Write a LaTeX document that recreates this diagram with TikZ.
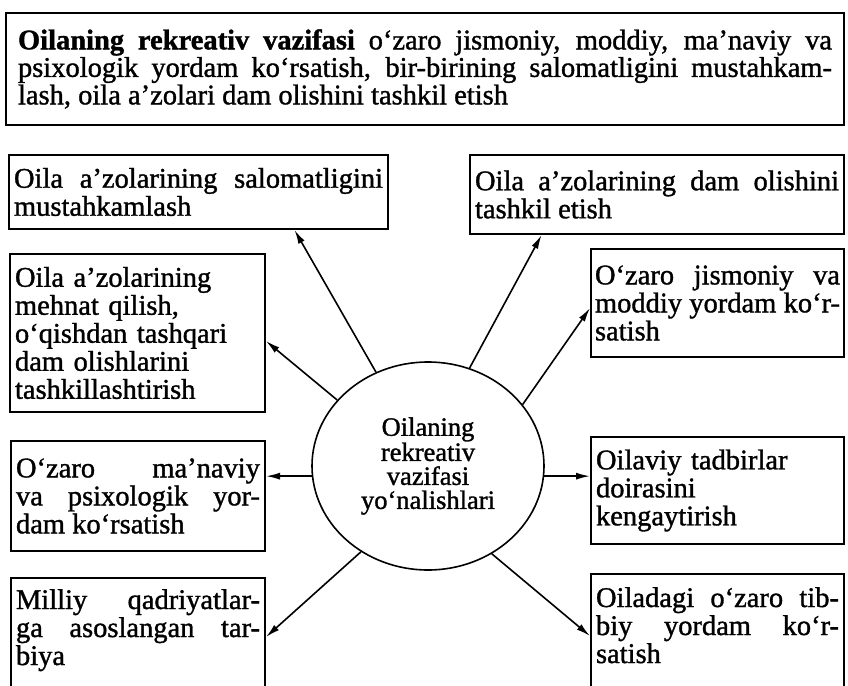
\documentclass[tikz,border=0pt]{standalone}
\usepackage{fontspec}
\setmainfont{Liberation Serif}[FakeBold=1.2]
\usetikzlibrary{arrows.meta,shapes.geometric,calc}
\hyphenpenalty=10000
\exhyphenpenalty=10000
\tolerance=10000
\begin{document}
\begin{tikzpicture}[x=1pt,y=-1pt,
  box/.style={draw,line width=2pt,anchor=north west,inner xsep=5pt,inner ysep=2pt,
    align=justify,font=\fontsize{28.5}{28}\selectfont},
  rag/.style={box,align=left},
  openbox/.style={box,text height=20pt,text depth=110pt},
  arr/.style={line width=1.6pt,-{Latex[length=14pt,width=7pt]}},
]
\useasboundingbox (0,0) rectangle (848,685);
\clip (0,0) rectangle (848,685);

\node[box,inner xsep=12pt,text width=814pt,minimum height=112pt,
  font=\fontsize{28.5}{27.5}\selectfont] (top) at (5,12)
  {\textbf{Oilaning rekreativ vazifasi} o‘zaro jismoniy, moddiy, ma’naviy va\linebreak
   psixologik yordam ko‘rsatish, bir-birining salomatligini mustahkam-\linebreak
   lash, oila a’zolari dam olishini tashkil etish};

\node[box,text width=369pt,minimum height=74pt] (b1) at (8,154)
  {Oila a’zolarining salomatligini\linebreak mustahkamlash};
\node[box,text width=364pt,minimum height=79pt] (b2) at (469,154)
  {Oila a’zolarining dam olishini\linebreak tashkil etish};
\node[rag,text width=245pt,minimum height=158pt] (b3) at (9,253)
  {Oila a’zolarining\\ mehnat qilish,\\ o‘qishdan tashqari\\ dam olishlarini\\ tashkillashtirish};
\node[box,inner xsep=4pt,text width=245pt,minimum height=108pt] (b4) at (590,248)
  {O‘zaro jismoniy va\linebreak moddiy yordam ko‘r-\linebreak satish};
\node[box,text width=244pt,minimum height=110pt] (b5) at (10,440)
  {O‘zaro ma’naviy\linebreak va psixologik yor-\linebreak dam ko‘rsatish};
\node[rag,text width=243pt,minimum height=107pt] (b6) at (590,436)
  {Oilaviy tadbirlar\\ doirasini\\ kengaytirish};
\node[openbox,inner ysep=11pt,text width=244pt] (b7) at (10,577)
  {Milliy qadriyatlar-\linebreak ga asoslangan tar-\linebreak biya};
\node[openbox,inner ysep=13pt,text width=243pt] (b8) at (590,573)
  {Oiladagi o‘zaro tib-\linebreak biy yordam ko‘r-\linebreak satish};

\node[ellipse,draw,line width=1.6pt,minimum width=232pt,minimum height=208pt,inner sep=0pt,
  align=center,font=\fontsize{26.5}{24}\selectfont] (c) at (428,466)
  {Oilaning\\ rekreativ\\ vazifasi\\ yo‘nalishlari};

\draw[arr] (c.119.7) -- ($(b1.south west)!0.752!(b1.south east)$);
\draw[arr] (c.67) -- ($(b2.south west)!0.193!(b2.south east)$);
\draw[arr] (c.144.6) -- ($(b3.north east)!0.55!(b3.south east)$);
\draw[arr] (c.33.8) -- ($(b4.north west)!0.546!(b4.south west)$);
\draw[arr] (c.185) -- (c.185 -| b5.east);
\draw[arr] (c.-5) -- (c.-5 -| b6.west);
\draw[arr] (c.232.8) -- ([yshift=-60pt]b7.north east);
\draw[arr] (c.306) -- ([yshift=-63pt]b8.north west);
\end{tikzpicture}
\end{document}
